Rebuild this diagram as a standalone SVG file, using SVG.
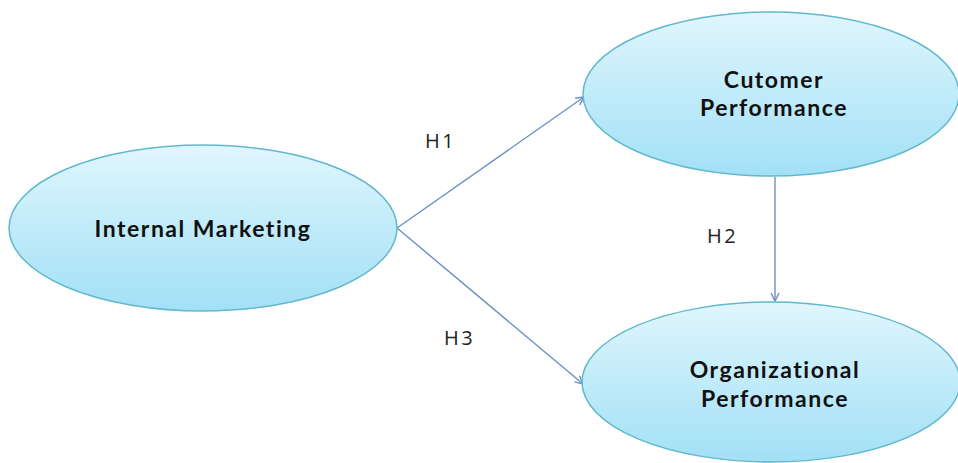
<svg xmlns="http://www.w3.org/2000/svg" width="958" height="463" viewBox="0 0 958 463">
<defs>
<linearGradient id="g" x1="0" y1="0" x2="0" y2="1">
<stop offset="0" stop-color="#e0f6fd"/>
<stop offset="1" stop-color="#a2e0f6"/>
</linearGradient>
<marker id="arr" viewBox="0 0 10 10" refX="9" refY="5" markerWidth="10" markerHeight="10" markerUnits="userSpaceOnUse" orient="auto">
<path d="M1,1 L9,5 L1,9" fill="none" stroke="#6b8fc4" stroke-width="1.4"/>
</marker>
</defs>
<style>
.node{fill:url(#g);stroke:#62b8cc;stroke-width:1.5}
.nt{font-family:Lato,"Open Sans","Liberation Sans",sans-serif;font-weight:bold;font-size:23px;fill:#111;text-anchor:middle;letter-spacing:1.5px;font-variant-ligatures:none}
.lbl{font-family:"Open Sans","Liberation Sans",sans-serif;font-size:20px;fill:#222;letter-spacing:2.5px}
.c{stroke:#6b8fc4;stroke-width:1.4;fill:none;marker-end:url(#arr)}
</style>
<rect width="958" height="463" fill="#fff"/>
<g id="connectors">
<line class="c" x1="397" y1="228" x2="584" y2="97"/>
<line class="c" x1="397" y1="228" x2="583" y2="384"/>
<line class="c" x1="775" y1="177" x2="775" y2="301"/>
<text class="lbl" x="425" y="148">H1</text>
<text class="lbl" x="707" y="243">H2</text>
<text class="lbl" x="444" y="345">H3</text>
</g>
<g id="internal-marketing">
<ellipse class="node" cx="203" cy="228" rx="194" ry="83"/>
<text class="nt" x="203" y="237">Internal Marketing</text>
</g>
<g id="customer-performance">
<ellipse class="node" cx="771" cy="94" rx="188" ry="82"/>
<text class="nt" x="774" y="88">Cutomer</text>
<text class="nt" x="774" y="116">Performance</text>
</g>
<g id="organizational-performance">
<ellipse class="node" cx="771" cy="382" rx="189" ry="80"/>
<text class="nt" x="775" y="378">Organizational</text>
<text class="nt" x="775" y="407">Performance</text>
</g>
</svg>
